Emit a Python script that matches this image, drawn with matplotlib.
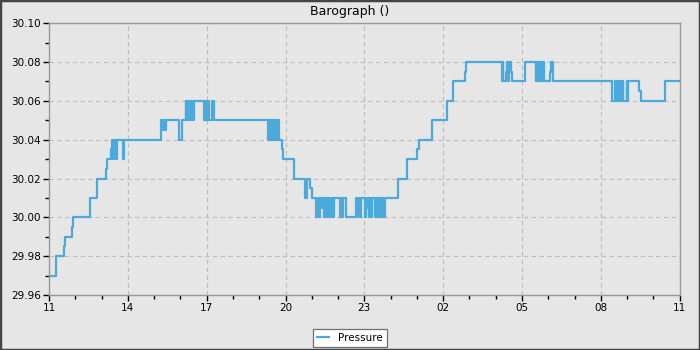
import matplotlib
matplotlib.use("Agg")
import matplotlib.pyplot as plt
from matplotlib.ticker import MultipleLocator, FixedLocator
from matplotlib.patches import Rectangle

# hours since 11:00, pressure holds from each time until the next one
hours = [
    0.00, 0.28, 0.57, 0.61, 0.86, 0.91, 1.56, 1.83, 2.17, 2.21,
    2.35, 2.38, 2.40, 2.43, 2.46, 2.49, 2.52, 2.55, 2.58, 2.83, 2.86,
    4.25, 4.35, 4.38, 4.41, 4.45, 4.96, 5.05,
    5.20, 5.23, 5.26, 5.31, 5.36, 5.39, 5.42, 5.47, 5.50,
    5.91, 5.94, 5.97, 6.00, 6.03, 6.06, 6.10, 6.20, 6.28,
    8.34, 8.37, 8.40, 8.43, 8.46, 8.49, 8.52, 8.55, 8.58, 8.61, 8.64,
    8.67, 8.70, 8.73, 8.76, 8.79, 8.85, 8.91,
    9.32, 9.75, 9.83, 9.95, 10.02,
    10.16, 10.23, 10.27, 10.33, 10.38, 10.43, 10.47, 10.50, 10.53, 10.56,
    10.60, 10.63, 10.67, 10.70, 10.74, 10.78, 10.81, 10.85,
    11.07, 11.10, 11.13, 11.19, 11.30, 11.68, 11.72, 11.76, 11.80, 11.84, 11.89,
    12.02, 12.06, 12.10, 12.14, 12.18, 12.22, 12.26, 12.30,
    12.40, 12.44, 12.48, 12.52, 12.56, 12.59,
    12.65, 12.69, 12.72, 12.78,
    13.29, 13.61, 14.02, 14.09, 14.56, 15.13, 15.36, 15.82, 15.86,
    17.24, 17.26, 17.28, 17.38, 17.41, 17.47, 17.51, 17.58, 17.62,
    18.13, 18.52, 18.55, 18.58, 18.61, 18.64, 18.67, 18.70, 18.73, 18.76,
    18.79, 18.82, 18.87,
    19.06, 19.09, 19.16,
    21.44, 21.53, 21.56, 21.59, 21.62, 21.65, 21.68, 21.71, 21.74, 21.77,
    21.80, 21.83, 21.86, 21.91, 21.98, 22.01, 22.04,
    22.45, 22.51, 23.43, 24.00,
]
pressure = [
    29.970, 29.980, 29.985, 29.990, 29.995, 30.000, 30.010, 30.020, 30.025, 30.030,
    30.035, 30.030, 30.040, 30.030, 30.040, 30.035, 30.040, 30.030, 30.040, 30.030, 30.040,
    30.050, 30.045, 30.050, 30.045, 30.050, 30.040, 30.050,
    30.060, 30.050, 30.060, 30.050, 30.060, 30.050, 30.060, 30.050, 30.060,
    30.050, 30.060, 30.050, 30.060, 30.050, 30.060, 30.050, 30.060, 30.050,
    30.040, 30.050, 30.040, 30.050, 30.040, 30.050, 30.040, 30.050, 30.040, 30.050, 30.040,
    30.050, 30.040, 30.050, 30.040, 30.040, 30.035, 30.030,
    30.020, 30.010, 30.020, 30.015, 30.010,
    30.000, 30.010, 30.000, 30.010, 30.005, 30.010, 30.000, 30.010, 30.000, 30.010,
    30.000, 30.010, 30.000, 30.010, 30.000, 30.010, 30.000, 30.010,
    30.000, 30.010, 30.000, 30.010, 30.000, 30.010, 30.000, 30.005, 30.010, 30.000, 30.010,
    30.000, 30.010, 30.005, 30.010, 30.000, 30.010, 30.000, 30.010,
    30.000, 30.010, 30.000, 30.010, 30.000, 30.010,
    30.000, 30.010, 30.000, 30.010,
    30.020, 30.030, 30.035, 30.040, 30.050, 30.060, 30.070, 30.075, 30.080,
    30.070, 30.080, 30.070, 30.075, 30.080, 30.070, 30.080, 30.075, 30.070,
    30.080, 30.070, 30.080, 30.070, 30.080, 30.070, 30.080, 30.070, 30.080, 30.070,
    30.080, 30.070, 30.070,
    30.075, 30.080, 30.070,
    30.060, 30.070, 30.060, 30.070, 30.060, 30.070, 30.060, 30.070, 30.060, 30.070,
    30.060, 30.070, 30.060, 30.060, 30.070, 30.060, 30.070,
    30.065, 30.060, 30.070, 30.070,
]
hour_labels = ["11", "14", "17", "20", "23", "02", "05", "08", "11"]

bg = "#e6e6e6"
fig = plt.figure(figsize=(7, 3.5), dpi=100, facecolor=bg)
ax = fig.add_axes([0.07, 0.157, 0.901, 0.777], facecolor=bg)

ax.plot(hours, pressure, drawstyle="steps-post", color="#4ba9dc", lw=1.6, label="Pressure")

ax.set_xlim(0, 24)
ax.set_ylim(29.96, 30.10)
ax.xaxis.set_major_locator(FixedLocator(range(0, 25, 3)))
ax.set_xticklabels(hour_labels)
ax.xaxis.set_minor_locator(MultipleLocator(1))
ax.yaxis.set_major_locator(MultipleLocator(0.02))
ax.yaxis.set_minor_locator(MultipleLocator(0.01))
ax.yaxis.set_major_formatter(lambda v, p: "%.2f" % v)

ax.tick_params(which="both", direction="out", length=4, width=1, colors="black",
               labelsize=7.5, pad=2)
ax.tick_params(which="minor", length=3)
ax.grid(True, which="major", ls=(0, (4, 3)), color="#bdbdbd", lw=0.8)
for s in ax.spines.values():
    s.set_color("#9a9a9a")
    s.set_linewidth(1)

fig.text(0.5, 0.968, "Barograph ()", ha="center", va="center", fontsize=9)

leg = fig.legend(loc="lower center", bbox_to_anchor=(0.5, 0.009), borderaxespad=0,
                 fontsize=7.5, fancybox=False, framealpha=1, edgecolor="#707070",
                 handlelength=1.1, handletextpad=0.9, borderpad=0.4)
leg.get_frame().set_linewidth(0.9)
leg._legend_box.sep = 0
for t in leg.get_texts():
    t.set_x(0)

fig.patches.append(Rectangle((0, 0), 1, 1, transform=fig.transFigure, fill=False,
                             edgecolor="#444444", lw=2.5))

fig.savefig("out.png", dpi=100, facecolor=bg)
